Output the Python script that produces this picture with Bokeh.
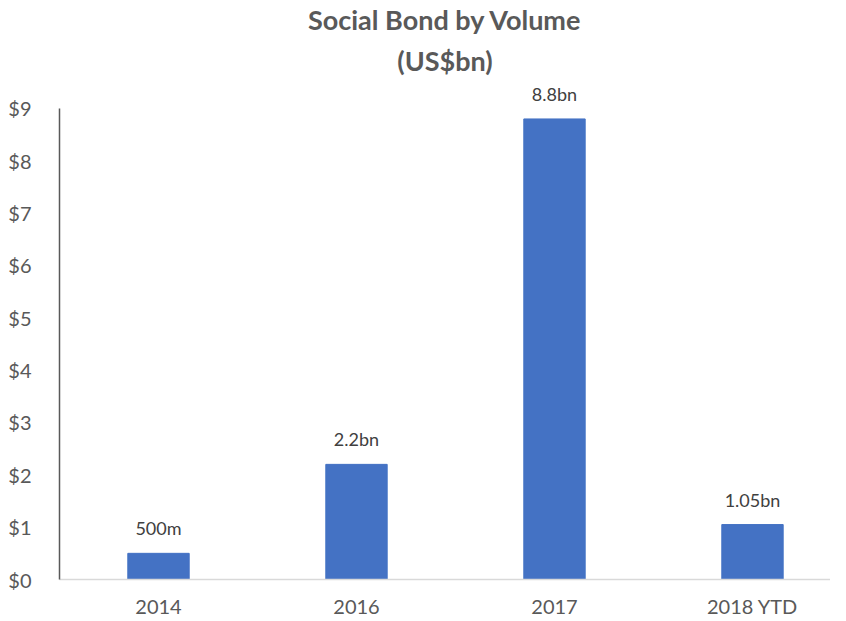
from bokeh.plotting import figure
from bokeh.models import ColumnDataSource, Range1d, FixedTicker, Title, LabelSet
from bokeh.core.properties import value
from bokeh.embed import file_html
from bokeh.resources import INLINE

categories = ["2014", "2016", "2017", "2018 YTD"]
values = [0.5, 2.2, 8.8, 1.05]
bar_labels = ["500m", "2.2bn", "8.8bn", "1.05bn"]
y_ticks = [0, 1, 2, 3, 4, 5, 6, 7, 8, 9]

xpos = [i + 0.5 for i in range(len(categories))]
src = ColumnDataSource(dict(x=xpos, top=values, label=bar_labels))

FONT = "Lato"

p = figure(width=830, height=620, output_backend="svg", toolbar_location=None,
           x_range=Range1d(0, 3.894), y_range=Range1d(0, 9.42),
           min_border_left=59, min_border_right=0, min_border_bottom=39, min_border_top=3)

p.vbar(x="x", top="top", width=0.31, source=src, color="#4472C4")
p.add_layout(LabelSet(x="x", y="top", text="label", source=src, text_align="center",
                      text_baseline="bottom", y_offset=14, text_font=value(FONT),
                      text_font_size="18px", text_color="#404040"))

p.xaxis.ticker = FixedTicker(ticks=xpos)
p.xaxis.major_label_overrides = {x: c for x, c in zip(xpos, categories)}
p.yaxis.ticker = FixedTicker(ticks=y_ticks)
p.yaxis.major_label_overrides = {t: f"${t}" for t in y_ticks}
p.yaxis.bounds = (0, 9)

for ax in (p.xaxis, p.yaxis):
    ax.major_tick_line_color = None
    ax.minor_tick_line_color = None
    ax.major_label_text_font = FONT
    ax.major_label_text_font_size = "20px"
    ax.major_label_text_color = "#595959"
p.yaxis.axis_line_color = "#595959"
p.yaxis.axis_line_width = 1.5
p.yaxis.major_label_standoff = 22
p.xaxis.axis_line_color = "#D9D9D9"
p.xaxis.axis_line_width = 1.5
p.xaxis.major_label_standoff = 8

p.xgrid.grid_line_color = None
p.ygrid.grid_line_color = None
p.outline_line_color = None

p.title = Title(text="Social Bond by Volume", align="center", text_font=FONT,
                text_font_size="27px", text_font_style="bold", text_color="#595959",
                standoff=0, text_line_height=0.8, vertical_align="bottom")
p.add_layout(Title(text="(US$bn)", align="center", text_font=FONT, text_font_size="27px",
                   text_font_style="bold", text_color="#595959", standoff=16,
                   text_line_height=0.8, vertical_align="top"), "above")

open("out.html", "w").write(file_html(p, INLINE))
